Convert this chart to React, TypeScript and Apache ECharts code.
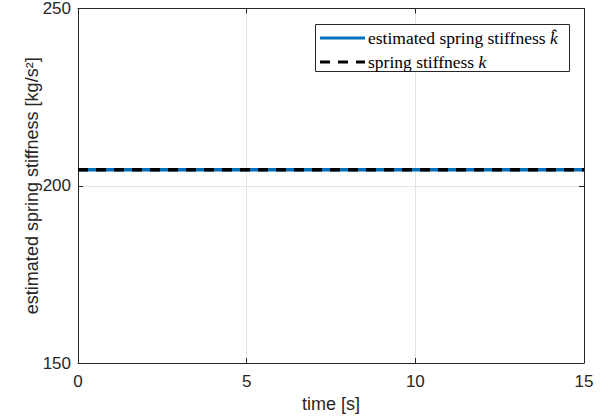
import React, { useEffect, useRef } from "react";
import * as echarts from "echarts";

const timeValues = [0, 15];
const estimatedStiffness = [204.5, 204.5];
const springStiffness = [204.5, 204.5];
const xTicks = [0, 5, 10, 15];
const yTicks = [150, 200, 250];
const legendLabels = ["estimated spring stiffness ", "spring stiffness "];

const AXIS = "#262626";
const GRID = "#e3e3e3";
const SANS = "Liberation Sans, Arial, Helvetica, sans-serif";
const SERIF = "Liberation Serif, Times New Roman, serif";

export default function App() {
  const ref = useRef<HTMLDivElement>(null);
  useEffect(() => {
    if (!ref.current) return;
    const chart = echarts.init(ref.current, undefined, { renderer: "svg" });
    const est = timeValues.map((t, i) => [t, estimatedStiffness[i]]);
    const act = timeValues.map((t, i) => [t, springStiffness[i]]);
    const axisCommon = {
      axisLine: { show: true, onZero: false, lineStyle: { color: AXIS, width: 1 } },
      axisTick: { show: true, inside: true, length: 5, lineStyle: { color: AXIS } },
    };
    chart.setOption({
      animation: false,
      backgroundColor: "#fff",
      grid: { left: 78, right: 19, top: 8, bottom: 54, containLabel: false },
      xAxis: [
        {
          type: "value",
          min: xTicks[0],
          max: xTicks[xTicks.length - 1],
          interval: 5,
          name: "time [s]",
          nameLocation: "middle",
          nameGap: 32,
          nameMoveOverlap: false,
          nameTextStyle: { fontFamily: SANS, fontSize: 18, color: AXIS },
          ...axisCommon,
          axisLabel: { fontFamily: SANS, fontSize: 17, color: AXIS, margin: 10 },
          splitLine: { show: true, lineStyle: { color: GRID, width: 1 } },
        },
        {
          type: "value",
          position: "top",
          min: xTicks[0],
          max: xTicks[xTicks.length - 1],
          interval: 5,
          ...axisCommon,
          axisLabel: { show: false },
          splitLine: { show: false },
        },
      ],
      yAxis: [
        {
          type: "value",
          min: yTicks[0],
          max: yTicks[yTicks.length - 1],
          interval: 50,
          name: "estimated spring stiffness [kg/s²]",
          nameLocation: "middle",
          nameGap: 37,
          nameMoveOverlap: false,
          nameTextStyle: { fontFamily: SANS, fontSize: 18, color: AXIS },
          ...axisCommon,
          axisLabel: { fontFamily: SANS, fontSize: 17, color: AXIS, margin: 7 },
          splitLine: { show: true, lineStyle: { color: GRID, width: 1 } },
        },
        {
          type: "value",
          position: "right",
          min: yTicks[0],
          max: yTicks[yTicks.length - 1],
          interval: 50,
          ...axisCommon,
          axisLabel: { show: false },
          splitLine: { show: false },
        },
      ],
      series: [
        {
          type: "line",
          data: est,
          showSymbol: false,
          lineStyle: { color: "#0072BD", width: 3.5 },
          z: 2,
        },
        {
          type: "line",
          data: act,
          showSymbol: false,
          lineStyle: { color: "#000000", width: 3.5, type: [10, 8] },
          z: 3,
        },
      ],
      graphic: [
        {
          type: "rect",
          shape: { x: 315.5, y: 24.5, width: 254, height: 47 },
          style: { fill: "#fff", stroke: AXIS, lineWidth: 1 },
          z: 10,
        },
        {
          type: "line",
          shape: { x1: 320, y1: 38, x2: 365, y2: 38 },
          style: { stroke: "#0072BD", lineWidth: 3 },
          z: 11,
        },
        {
          type: "line",
          shape: { x1: 320, y1: 62, x2: 365, y2: 62 },
          style: { stroke: "#000", lineWidth: 3, lineDash: [10, 8] },
          z: 11,
        },
        {
          type: "text",
          x: 368,
          y: 38,
          style: {
            text: "{n|" + legendLabels[0] + "}{i|k̂}",
            verticalAlign: "middle",
            rich: {
              n: { fontFamily: SERIF, fontSize: 17.5, fill: "#000" },
              i: { fontFamily: SERIF, fontSize: 17.5, fontStyle: "italic", fill: "#000" },
            },
          },
          z: 11,
        },
        {
          type: "text",
          x: 368,
          y: 62,
          style: {
            text: "{n|" + legendLabels[1] + "}{i|k}",
            verticalAlign: "middle",
            rich: {
              n: { fontFamily: SERIF, fontSize: 17.5, fill: "#000" },
              i: { fontFamily: SERIF, fontSize: 17.5, fontStyle: "italic", fill: "#000" },
            },
          },
          z: 11,
        },
      ],
    });
    return () => chart.dispose();
  }, []);
  return <div ref={ref} style={{ width: 603, height: 418, position: "absolute", left: 0, top: 0 }} />;
}
